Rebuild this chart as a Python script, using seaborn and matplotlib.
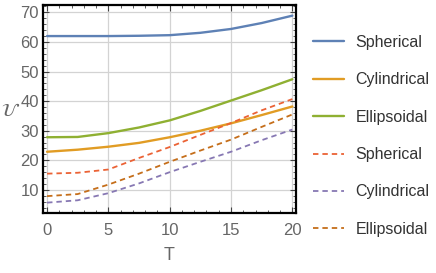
import matplotlib
matplotlib.use("Agg")
import matplotlib.pyplot as plt
import seaborn as sns
import pandas as pd
from matplotlib.ticker import MultipleLocator

# ---- data ----
T = [0, 2.5, 5, 7.5, 10, 12.5, 15, 17.5, 20]
sph_solid = [62.0, 62.0, 62.0, 62.1, 62.3, 63.1, 64.4, 66.4, 68.9]
cyl_solid = [22.9, 23.6, 24.6, 25.9, 27.8, 30.0, 32.5, 35.3, 38.2]
ell_solid = [27.8, 27.9, 29.2, 31.1, 33.5, 36.7, 40.2, 43.7, 47.4]
sph_dash = [15.5, 15.8, 16.9, 20.8, 24.5, 28.6, 32.6, 36.9, 40.7]
cyl_dash = [5.7, 6.5, 8.9, 12.2, 16.0, 19.5, 22.9, 26.8, 30.4]
ell_dash = [7.9, 8.6, 11.8, 15.5, 19.5, 23.3, 27.0, 31.3, 35.5]

labels = ["Spherical", "Cylindrical", "Ellipsoidal",
          "Spherical", "Cylindrical", "Ellipsoidal"]
series = [sph_solid, cyl_solid, ell_solid, sph_dash, cyl_dash, ell_dash]
colors = ["#5E81B5", "#E19C24", "#8FB032", "#EB6235", "#8778B3", "#C56E1A"]
styles = ["-", "-", "-", "--", "--", "--"]

sns.set_style("white")
plt.rcParams["font.family"] = ["Liberation Sans", "DejaVu Sans"]

fig = plt.figure(figsize=(4.36, 2.73), dpi=100)
ax = fig.add_axes([43 / 436, 1 - 213 / 273, (296 - 43) / 436, (213 - 5) / 273])

for vals, lab, col, ls in zip(series, labels, colors, styles):
    df = pd.DataFrame({"T": T, "u": vals})
    if ls == "-":
        sns.lineplot(data=df, x="T", y="u", ax=ax, color=col, label=lab,
                     linewidth=1.7, linestyle="-")
    else:
        sns.lineplot(data=df, x="T", y="u", ax=ax, color=col, label=lab,
                     linewidth=1.3, linestyle=(0, (3, 2.2)))

ax.set_xlim(-0.33, 20.3)
ax.set_ylim(2.2, 72.5)
ax.xaxis.set_major_locator(MultipleLocator(5))
ax.xaxis.set_minor_locator(MultipleLocator(1))
ax.yaxis.set_minor_locator(MultipleLocator(2))
ax.set_yticks([10, 20, 30, 40, 50, 60, 70])

ax.grid(True, which="major", color="#D3D3D3", linewidth=0.9)
ax.set_axisbelow(True)
for sp in ax.spines.values():
    sp.set_color("black")
    sp.set_linewidth(1.6)
    sp.set_visible(True)

ax.tick_params(which="both", direction="in", color="#444444",
               top=True, right=True, left=True, bottom=True)
ax.tick_params(which="major", length=4, width=0.8, labelsize=12,
               labelcolor="#666666")
ax.tick_params(axis="y", which="major", pad=3)
ax.tick_params(axis="x", which="major", pad=7)
ax.tick_params(which="minor", length=2, width=0.6)

ax.set_xlabel("T", fontsize=13, color="#666666", labelpad=7)
ax.set_ylabel(r"$\mathcal{U}$", fontsize=13, color="#666666",
              rotation=0, va="center", ha="center")
ax.yaxis.set_label_coords(-0.128, 0.49)

h, l = ax.get_legend_handles_labels()
ax.get_legend().remove()
fig.legend(h, l, loc="center left", bbox_to_anchor=(313 / 436, 0.502),
           frameon=False, fontsize=11.5, handlelength=1.95,
           handletextpad=0.7, labelspacing=1.4, borderpad=0,
           borderaxespad=0, labelcolor="#333333")

fig.savefig("out.png", dpi=100)
